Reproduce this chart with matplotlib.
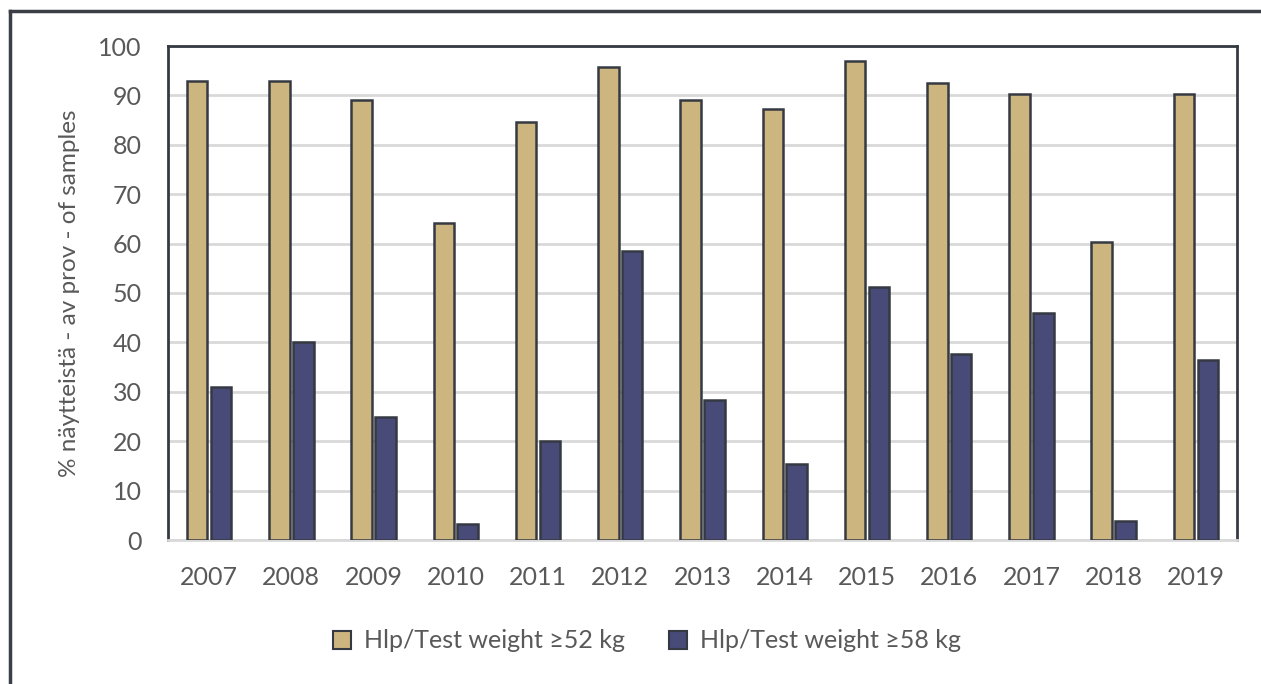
import numpy as np
import matplotlib.pyplot as plt
from matplotlib.lines import Line2D

years = ['2007', '2008', '2009', '2010', '2011', '2012', '2013',
         '2014', '2015', '2016', '2017', '2018', '2019']
weight_52 = [92.9, 92.9, 89.1, 64.2, 84.6, 95.7, 89.1, 87.2, 97.0, 92.5, 90.3, 60.3, 90.3]
weight_58 = [31.0, 40.1, 24.9, 3.2, 20.0, 58.5, 28.3, 15.4, 51.2, 37.7, 46.0, 3.8, 36.4]
labels = ['Hlp/Test weight \u226552 kg', 'Hlp/Test weight \u226558 kg']

plt.rcParams['font.family'] = ['Lato', 'DejaVu Sans']

tan = '#CDB57F'
navy = '#484A78'
edge = '#353A42'
text_col = '#595959'

fig = plt.figure(figsize=(12.61, 6.84), dpi=100)
ax = fig.add_axes([168 / 1261, 1 - 540 / 684, (1237 - 168) / 1261, (540 - 46) / 684])

x = np.arange(len(years))
w = 0.25
gap = 0.04
ax.bar(x - (w + gap) / 2, weight_52, w, color=tan, edgecolor=edge, linewidth=1.8,
       label=labels[0], zorder=3)
ax.bar(x + (w + gap) / 2, weight_58, w, color=navy, edgecolor=edge, linewidth=1.8,
       label=labels[1], zorder=3)

ax.set_xlim(-0.5, len(years) - 0.5)
ax.set_ylim(0, 100)
ax.set_yticks(range(0, 101, 10))
ax.set_xticks(x)
ax.set_xticklabels(years)
ax.yaxis.grid(True, color='#D9D9D9', linewidth=2, zorder=0)
ax.tick_params(axis='both', length=0, labelsize=18, colors=text_col)
ax.tick_params(axis='x', pad=19)
ax.tick_params(axis='y', pad=19)

for side in ['left', 'top', 'right']:
    ax.spines[side].set_color(edge)
    ax.spines[side].set_linewidth(2)
ax.spines['bottom'].set_color('#D9D9D9')
ax.spines['bottom'].set_linewidth(2)

fig.text(70 / 1261, 1 - 293 / 684, '% näytteistä - av prov - of samples', rotation=90,
         ha='center', va='center', fontsize=17.5, color=text_col)

handles = [Line2D([], [], marker='s', linestyle='none', markersize=13,
                  markerfacecolor=c, markeredgecolor=edge, markeredgewidth=1.5)
           for c in (tan, navy)]
fig.legend(handles, labels, loc='center', bbox_to_anchor=(645 / 1261, 1 - 641 / 684),
           ncol=2, frameon=False, fontsize=18, labelcolor=text_col,
           handletextpad=0.4, columnspacing=1.6, handlelength=1.0)

# outer frame (left and top edges visible)
fig.add_artist(Line2D([10 / 1261, 10 / 1261], [0, 1 - 11 / 684], color='#3A3F47',
                      linewidth=2.5, transform=fig.transFigure))
fig.add_artist(Line2D([10 / 1261, 1], [1 - 11 / 684, 1 - 11 / 684], color='#3A3F47',
                      linewidth=2.5, transform=fig.transFigure))

fig.savefig('out.png', dpi=100)
